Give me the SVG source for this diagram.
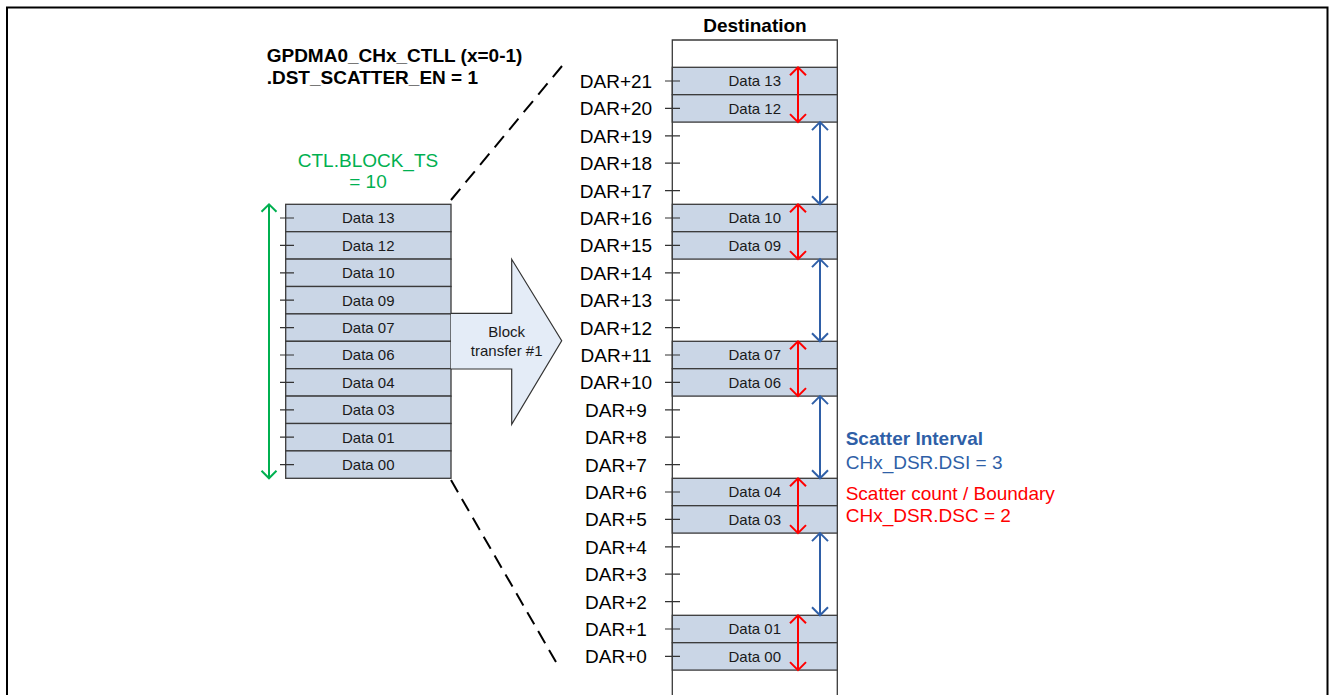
<svg xmlns="http://www.w3.org/2000/svg" width="1329" height="695" viewBox="0 0 1329 695">
<defs>
<style>
.cell{fill:#CAD6E6;stroke:#3A3A3A;stroke-width:1.3}
.dt{font-family:"Liberation Sans",Arial,sans-serif;font-size:15px;fill:#1a1a1a;text-anchor:middle}
.big{font-family:"Liberation Sans",Arial,sans-serif;font-size:19px;fill:#000}
.dar{text-anchor:middle}
.tick{stroke:#333;stroke-width:1.2}
.b{font-weight:bold}
</style>
<marker id="mr" markerUnits="userSpaceOnUse" markerWidth="20" markerHeight="20" viewBox="-10 -10 20 20" refX="0" refY="0" orient="auto-start-reverse"><path d="M-8,-8 L0,0 L-8,8" fill="none" stroke="#FF0000" stroke-width="2"/></marker>
<marker id="mb" markerUnits="userSpaceOnUse" markerWidth="20" markerHeight="20" viewBox="-10 -10 20 20" refX="0" refY="0" orient="auto-start-reverse"><path d="M-8,-8 L0,0 L-8,8" fill="none" stroke="#2F5FA7" stroke-width="2"/></marker>
<marker id="mg" markerUnits="userSpaceOnUse" markerWidth="20" markerHeight="20" viewBox="-10 -10 20 20" refX="0" refY="0" orient="auto-start-reverse"><path d="M-7.5,-7.5 L0,0 L-7.5,7.5" fill="none" stroke="#00B050" stroke-width="2"/></marker>
</defs>
<rect width="1329" height="695" fill="#fff"/>
<path d="M7,700 V7.5 H1327.5 V700" fill="none" stroke="#000" stroke-width="2"/>

<g id="title">
<text class="big b" x="266.7" y="62.3">GPDMA0_CHx_CTLL (x=0-1)</text>
<text class="big b" x="266.7" y="84">.DST_SCATTER_EN = 1</text>
</g>
<g id="block-ts">
<text class="big" x="368" y="166.7" text-anchor="middle" style="fill:#00B050">CTL.BLOCK_TS</text>
<text class="big" x="368" y="188.3" text-anchor="middle" style="fill:#00B050">= 10</text>
</g>

<g id="source">
<rect class="cell" x="285.7" y="204.3" width="165.3" height="27.4"/>
<rect class="cell" x="285.7" y="231.7" width="165.3" height="27.4"/>
<rect class="cell" x="285.7" y="259.1" width="165.3" height="27.4"/>
<rect class="cell" x="285.7" y="286.5" width="165.3" height="27.4"/>
<rect class="cell" x="285.7" y="313.9" width="165.3" height="27.4"/>
<rect class="cell" x="285.7" y="341.3" width="165.3" height="27.4"/>
<rect class="cell" x="285.7" y="368.7" width="165.3" height="27.4"/>
<rect class="cell" x="285.7" y="396.1" width="165.3" height="27.4"/>
<rect class="cell" x="285.7" y="423.5" width="165.3" height="27.4"/>
<rect class="cell" x="285.7" y="450.9" width="165.3" height="27.4"/>
<text class="dt" x="368.3" y="223.3">Data 13</text>
<text class="dt" x="368.3" y="250.7">Data 12</text>
<text class="dt" x="368.3" y="278.1">Data 10</text>
<text class="dt" x="368.3" y="305.5">Data 09</text>
<text class="dt" x="368.3" y="332.9">Data 07</text>
<text class="dt" x="368.3" y="360.3">Data 06</text>
<text class="dt" x="368.3" y="387.7">Data 04</text>
<text class="dt" x="368.3" y="415.1">Data 03</text>
<text class="dt" x="368.3" y="442.5">Data 01</text>
<text class="dt" x="368.3" y="469.9">Data 00</text>
<path class="tick" d="M280,218H294 M280,245.4H294 M280,272.8H294 M280,300.2H294 M280,327.6H294 M280,355H294 M280,382.4H294 M280,409.8H294 M280,437.2H294 M280,464.6H294"/>
</g>

<g id="block-transfer">
<path d="M451,313.3 H511.7 V259.3 L561.7,340.7 L511.7,424.3 V369 H451" fill="#E4ECF7" stroke="#333" stroke-width="1.2"/>
<text class="dt" x="506.7" y="336.7">Block</text>
<text class="dt" x="506.7" y="355.7">transfer #1</text>
</g>

<g id="destination">
<text class="big b" x="755" y="32" text-anchor="middle">Destination</text>
<path d="M672.3,700 V40 H837.3 V700" fill="none" stroke="#3A3A3A" stroke-width="1.3"/>
<rect class="cell" x="672.3" y="67.3" width="165" height="27.4"/>
<rect class="cell" x="672.3" y="94.7" width="165" height="27.4"/>
<rect class="cell" x="672.3" y="204.3" width="165" height="27.4"/>
<rect class="cell" x="672.3" y="231.7" width="165" height="27.4"/>
<rect class="cell" x="672.3" y="341.3" width="165" height="27.4"/>
<rect class="cell" x="672.3" y="368.7" width="165" height="27.4"/>
<rect class="cell" x="672.3" y="478.3" width="165" height="27.4"/>
<rect class="cell" x="672.3" y="505.7" width="165" height="27.4"/>
<rect class="cell" x="672.3" y="615.3" width="165" height="27.4"/>
<rect class="cell" x="672.3" y="642.7" width="165" height="27.4"/>
<text class="dt" x="754.8" y="86.3">Data 13</text>
<text class="dt" x="754.8" y="113.7">Data 12</text>
<text class="dt" x="754.8" y="223.3">Data 10</text>
<text class="dt" x="754.8" y="250.7">Data 09</text>
<text class="dt" x="754.8" y="360.3">Data 07</text>
<text class="dt" x="754.8" y="387.7">Data 06</text>
<text class="dt" x="754.8" y="497.3">Data 04</text>
<text class="dt" x="754.8" y="524.7">Data 03</text>
<text class="dt" x="754.8" y="634.3">Data 01</text>
<text class="dt" x="754.8" y="661.7">Data 00</text>
</g>

<g id="addresses">
<path class="tick" d="M665,81H680 M665,108.4H680 M665,135.8H680 M665,163.2H680 M665,190.6H680 M665,218H680 M665,245.4H680 M665,272.8H680 M665,300.2H680 M665,327.6H680 M665,355H680 M665,382.4H680 M665,409.8H680 M665,437.2H680 M665,464.6H680 M665,492H680 M665,519.4H680 M665,546.8H680 M665,574.2H680 M665,601.6H680 M665,629H680 M665,656.4H680"/>
<text class="big dar" x="616" y="88">DAR+21</text>
<text class="big dar" x="616" y="115.4">DAR+20</text>
<text class="big dar" x="616" y="142.8">DAR+19</text>
<text class="big dar" x="616" y="170.2">DAR+18</text>
<text class="big dar" x="616" y="197.6">DAR+17</text>
<text class="big dar" x="616" y="225">DAR+16</text>
<text class="big dar" x="616" y="252.4">DAR+15</text>
<text class="big dar" x="616" y="279.8">DAR+14</text>
<text class="big dar" x="616" y="307.2">DAR+13</text>
<text class="big dar" x="616" y="334.6">DAR+12</text>
<text class="big dar" x="616" y="362">DAR+11</text>
<text class="big dar" x="616" y="389.4">DAR+10</text>
<text class="big dar" x="616" y="416.8">DAR+9</text>
<text class="big dar" x="616" y="444.2">DAR+8</text>
<text class="big dar" x="616" y="471.6">DAR+7</text>
<text class="big dar" x="616" y="499">DAR+6</text>
<text class="big dar" x="616" y="526.4">DAR+5</text>
<text class="big dar" x="616" y="553.8">DAR+4</text>
<text class="big dar" x="616" y="581.2">DAR+3</text>
<text class="big dar" x="616" y="608.6">DAR+2</text>
<text class="big dar" x="616" y="636">DAR+1</text>
<text class="big dar" x="616" y="663.4">DAR+0</text>
</g>

<g id="legend">
<text class="big b" x="845.7" y="445" style="fill:#2F5FA7">Scatter Interval</text>
<text class="big" x="845.7" y="469" style="fill:#2F5FA7">CHx_DSR.DSI = 3</text>
<text class="big" x="845.7" y="500" style="fill:#FF0000">Scatter count / Boundary</text>
<text class="big" x="845.7" y="521.7" style="fill:#FF0000">CHx_DSR.DSC = 2</text>
</g>

<g id="connectors" fill="none">
<path d="M451,200 L562,66" stroke="#000" stroke-width="2" stroke-dasharray="14.5,8.3"/>
<path d="M451,480 L556,662" stroke="#000" stroke-width="2" stroke-dasharray="14,7.8"/>
<path d="M269,204.3 V478.3" stroke="#00B050" stroke-width="2" marker-start="url(#mg)" marker-end="url(#mg)"/>
<g stroke="#FF0000" stroke-width="2" marker-start="url(#mr)" marker-end="url(#mr)">
<path d="M798,67.3 V122.1"/>
<path d="M798,204.3 V259.1"/>
<path d="M798,341.3 V396.1"/>
<path d="M798,478.3 V533.1"/>
<path d="M798,615.3 V670.1"/>
</g>
<g stroke="#2F5FA7" stroke-width="2" marker-start="url(#mb)" marker-end="url(#mb)">
<path d="M820,122.1 V204.3"/>
<path d="M820,259.1 V341.3"/>
<path d="M820,396.1 V478.3"/>
<path d="M820,533.1 V615.3"/>
</g>
</g>
</svg>
